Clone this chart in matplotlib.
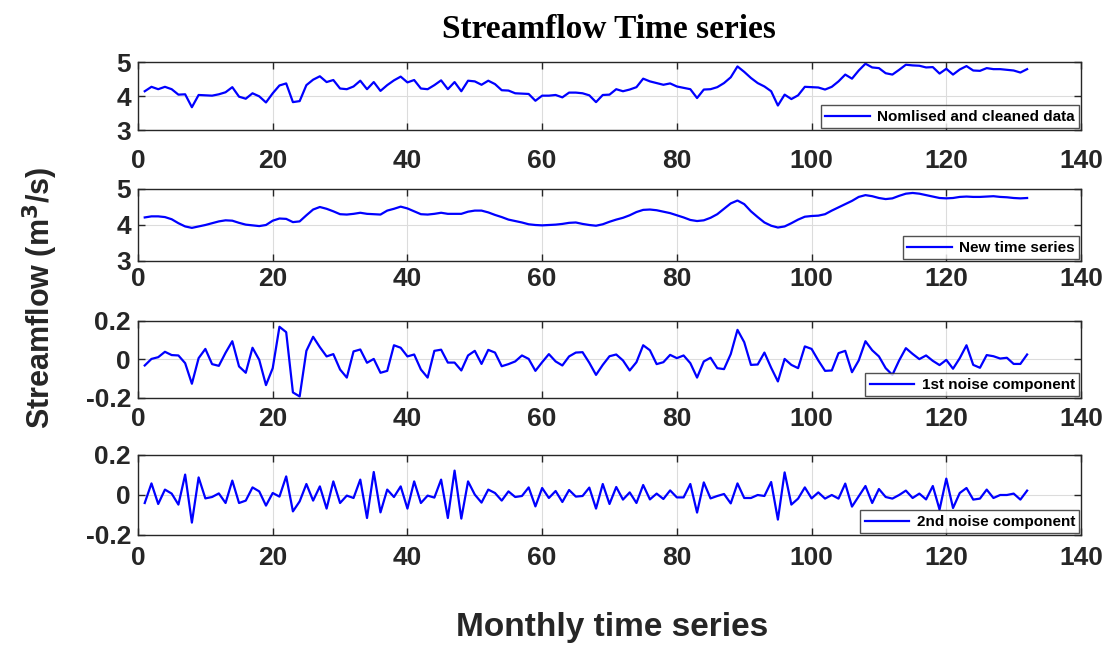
import numpy as np
import matplotlib
matplotlib.use("Agg")
import matplotlib.pyplot as plt

months = list(range(1, 133))

cleaned = [4.14, 4.27, 4.20, 4.27, 4.20, 4.04, 4.05, 3.67, 4.03, 4.02,
           4.01, 4.05, 4.11, 4.26, 3.98, 3.92, 4.08, 3.99, 3.81, 4.08,
           4.31, 4.37, 3.82, 3.85, 4.32, 4.48, 4.58, 4.41, 4.47, 4.22,
           4.20, 4.28, 4.45, 4.20, 4.41, 4.15, 4.32, 4.46, 4.57, 4.40,
           4.47, 4.22, 4.20, 4.32, 4.46, 4.20, 4.41, 4.14, 4.45, 4.43,
           4.33, 4.45, 4.35, 4.17, 4.16, 4.08, 4.07, 4.06, 3.86, 4.01,
           4.01, 4.03, 3.96, 4.10, 4.10, 4.08, 4.02, 3.82, 4.03, 4.04,
           4.20, 4.14, 4.19, 4.26, 4.51, 4.43, 4.38, 4.33, 4.37, 4.28,
           4.24, 4.20, 3.94, 4.19, 4.20, 4.26, 4.38, 4.55, 4.87, 4.71,
           4.53, 4.38, 4.28, 4.14, 3.72, 4.04, 3.91, 4.02, 4.27, 4.26,
           4.25, 4.19, 4.27, 4.43, 4.63, 4.51, 4.75, 4.95, 4.84, 4.82,
           4.67, 4.63, 4.77, 4.92, 4.90, 4.89, 4.84, 4.85, 4.66, 4.80,
           4.63, 4.78, 4.88, 4.75, 4.74, 4.82, 4.79, 4.79, 4.77, 4.75,
           4.69, 4.79]

new_series = [4.21, 4.24, 4.24, 4.22, 4.16, 4.05, 3.96, 3.92, 3.96, 4.00,
              4.05, 4.10, 4.13, 4.12, 4.06, 4.01, 3.99, 3.97, 4.00, 4.12,
              4.18, 4.17, 4.08, 4.10, 4.27, 4.43, 4.50, 4.45, 4.38, 4.30,
              4.29, 4.31, 4.34, 4.31, 4.30, 4.29, 4.40, 4.45, 4.51, 4.46,
              4.38, 4.30, 4.29, 4.31, 4.34, 4.31, 4.31, 4.31, 4.37, 4.40,
              4.40, 4.35, 4.28, 4.22, 4.15, 4.11, 4.07, 4.02, 4.00, 3.99,
              4.00, 4.01, 4.03, 4.06, 4.07, 4.03, 4.00, 3.98, 4.02, 4.09,
              4.15, 4.20, 4.27, 4.36, 4.42, 4.43, 4.41, 4.37, 4.33, 4.27,
              4.21, 4.14, 4.11, 4.13, 4.20, 4.30, 4.45, 4.60, 4.68, 4.58,
              4.38, 4.22, 4.07, 3.98, 3.93, 3.96, 4.05, 4.15, 4.23, 4.25,
              4.26, 4.30, 4.40, 4.49, 4.58, 4.67, 4.78, 4.83, 4.80, 4.75,
              4.72, 4.74, 4.81, 4.87, 4.89, 4.87, 4.83, 4.79, 4.75, 4.74,
              4.75, 4.78, 4.79, 4.78, 4.78, 4.79, 4.80, 4.78, 4.77, 4.75,
              4.74, 4.75]

noise1 = [-0.031, 0.003, 0.012, 0.040, 0.023, 0.021, -0.019, -0.126, 0.007, 0.055,
          -0.024, -0.033, 0.035, 0.095, -0.036, -0.069, 0.061, -0.002, -0.133, -0.045,
          0.170, 0.142, -0.171, -0.192, 0.045, 0.118, 0.064, 0.016, 0.028, -0.052,
          -0.094, 0.042, 0.052, -0.017, 0.003, -0.069, -0.059, 0.074, 0.061, 0.016,
          0.026, -0.052, -0.094, 0.045, 0.051, -0.016, -0.016, -0.057, 0.021, 0.045,
          -0.023, 0.050, 0.036, -0.035, -0.024, -0.010, 0.021, 0.003, -0.059, -0.014,
          0.028, -0.010, -0.031, 0.016, 0.036, 0.038, -0.017, -0.080, -0.028, 0.017,
          0.026, -0.005, -0.057, -0.014, 0.074, 0.048, -0.024, -0.014, 0.024, 0.007,
          0.021, -0.019, -0.094, -0.010, 0.009, -0.045, -0.050, 0.028, 0.154, 0.090,
          -0.028, -0.026, 0.036, -0.043, -0.114, 0.003, -0.028, -0.045, 0.068, 0.055,
          -0.005, -0.059, -0.057, 0.033, 0.045, -0.066, -0.005, 0.095, 0.048, 0.016,
          -0.045, -0.080, -0.005, 0.059, 0.029, 0.002, 0.021, -0.007, -0.029, -0.002,
          -0.048, 0.007, 0.074, -0.028, -0.043, 0.023, 0.017, 0.005, 0.009, -0.023,
          -0.023, 0.026]

noise2 = [-0.040, 0.058, -0.045, 0.027, 0.007, -0.048, 0.102, -0.138, 0.088, -0.017,
          -0.010, 0.008, -0.040, 0.072, -0.040, -0.028, 0.038, 0.018, -0.053, 0.010,
          -0.008, 0.093, -0.082, -0.032, 0.055, -0.028, 0.043, -0.068, 0.068, -0.040,
          -0.003, -0.015, 0.077, -0.115, 0.115, -0.087, 0.027, -0.010, 0.043, -0.068,
          0.068, -0.040, -0.003, -0.013, 0.077, -0.115, 0.122, -0.118, 0.068, 0.002,
          -0.038, 0.027, 0.010, -0.028, 0.018, -0.010, -0.005, 0.038, -0.057, 0.035,
          -0.015, 0.020, -0.035, 0.025, -0.008, -0.005, 0.037, -0.068, 0.055, -0.045,
          0.040, -0.023, 0.013, -0.040, 0.050, -0.022, 0.007, -0.020, 0.023, -0.012,
          -0.012, 0.055, -0.088, 0.063, -0.017, -0.005, 0.005, -0.042, 0.058, -0.015,
          -0.015, 0.000, -0.005, 0.065, -0.123, 0.113, -0.048, -0.018, 0.038, -0.017,
          0.013, -0.018, 0.000, -0.018, 0.057, -0.058, -0.007, 0.045, -0.040, 0.030,
          -0.010, -0.018, 0.000, 0.022, -0.015, 0.007, -0.022, 0.045, -0.073, 0.082,
          -0.065, 0.010, 0.035, -0.023, -0.018, 0.027, -0.015, 0.000, 0.000, 0.007,
          -0.023, 0.022]

labels = ["Nomlised and cleaned data", "New time series",
          "1st noise component", "2nd noise component"]
series = [cleaned, new_series, noise1, noise2]
ylims = [(3, 5), (3, 5), (-0.2, 0.2), (-0.2, 0.2)]
yticks = [[3, 4, 5], [3, 4, 5], [-0.2, 0, 0.2], [-0.2, 0, 0.2]]
yticklabels = [["3", "4", "5"], ["3", "4", "5"], ["-0.2", "0", "0.2"], ["-0.2", "0", "0.2"]]
xticks = [0, 20, 40, 60, 80, 100, 120, 140]

W, H = 1107, 645
fig = plt.figure(figsize=(W / 100, H / 100), dpi=100)

# axes boxes in pixels: (top, bottom)
boxes = [(62, 130), (189, 261), (321, 398), (455, 535)]
xpads = [14, 4.5, 6.5, 8]
left_px, right_px = 138, 1081

sans = ["Liberation Sans", "DejaVu Sans"]
tick_color = "#262626"

for i, (top, bot) in enumerate(boxes):
    ax = fig.add_axes([left_px / W, 1 - bot / H, (right_px - left_px) / W, (bot - top) / H])
    ax.plot(months, series[i], color="#0000ff", lw=1.6, label=labels[i])
    ax.set_xlim(0, 140)
    ax.set_ylim(*ylims[i])
    ax.set_xticks(xticks)
    ax.set_xticklabels([str(t) for t in xticks])
    ax.set_yticks(yticks[i])
    ax.set_yticklabels(yticklabels[i])
    ax.grid(True, color="#dcdcdc", lw=0.8)
    ax.tick_params(direction="in", top=True, right=True, length=5, width=1,
                   colors=tick_color, labelsize=19)
    ax.tick_params(axis="x", pad=xpads[i])
    ax.tick_params(axis="y", pad=5)
    for lab in ax.get_xticklabels() + ax.get_yticklabels():
        lab.set_fontweight("bold")
        lab.set_family(sans)
        lab.set_color(tick_color)
    for sp in ax.spines.values():
        sp.set_color(tick_color)
        sp.set_linewidth(1.0)
    leg = ax.legend(loc="lower right", prop={"family": sans, "weight": "bold", "size": 11},
                    frameon=True, fancybox=False, borderaxespad=0.1, handlelength=2.9,
                    borderpad=0.3, handletextpad=0.5)
    leg.get_frame().set_edgecolor("#262626")
    leg.get_frame().set_linewidth(1.0)

fig.text(609 / W, 1 - 30 / H, "Streamflow Time series", ha="center", va="center",
         fontsize=24, fontweight="bold", family=["Liberation Serif", "DejaVu Serif"])
fig.text(40 / W, 1 - 298 / H, "Streamflow (m$^{\\mathbf{3}}$/s)", ha="center", va="center",
         rotation=90, fontsize=22, fontweight="bold", family=sans, color=tick_color)
fig.text(612 / W, 2 / H, "Monthly time series", ha="center", va="bottom",
         fontsize=24, fontweight="bold", family=sans, color=tick_color)

fig.savefig("out.png", dpi=100)
